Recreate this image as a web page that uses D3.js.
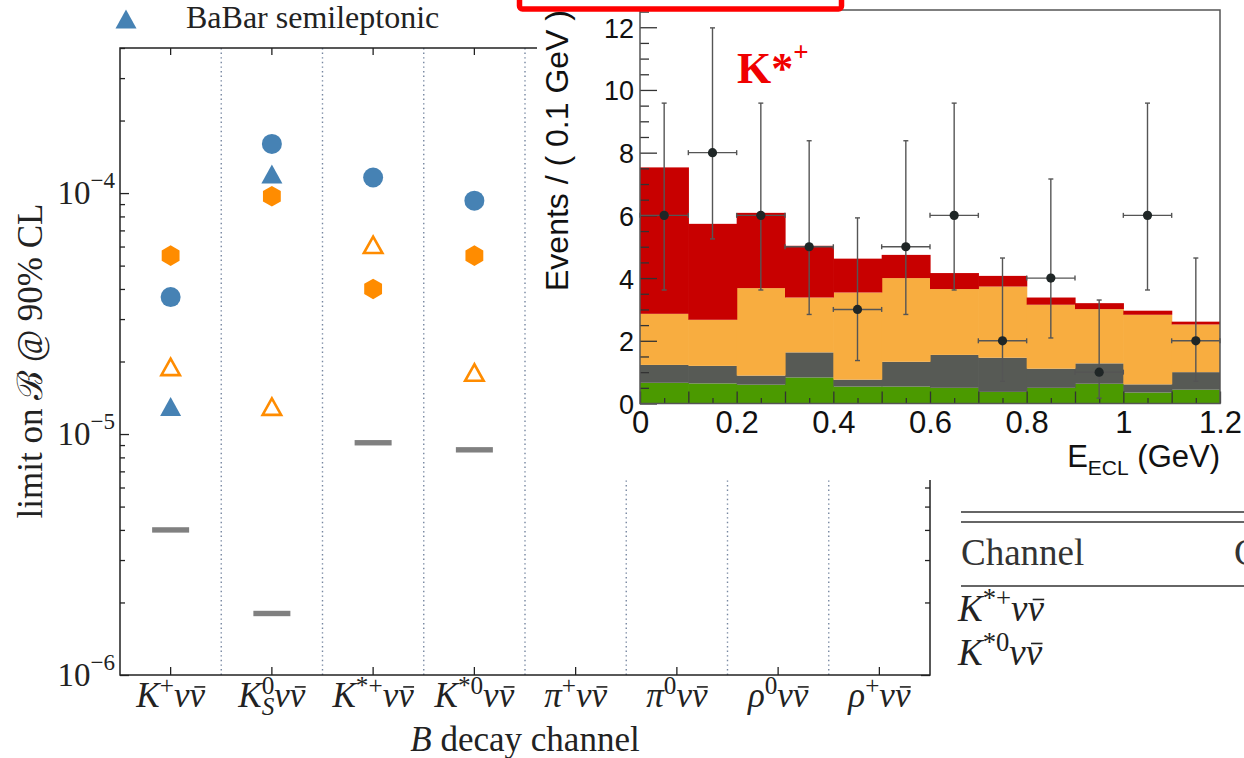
<!DOCTYPE html>
<html>
<head>
<meta charset="utf-8">
<script src="https://cdn.jsdelivr.net/npm/d3@7"></script>
<style>
body { margin: 0; background: #fff; }
svg { display: block; }
</style>
</head>
<body>
<div id="chart"></div>
<script>
var WIDTH = 1244;
var HEIGHT = 758;
var SERIF = "'Liberation Serif', 'DejaVu Serif', serif";
var SANS = "'Liberation Sans', Arial, sans-serif";
var INK = "#222";

// ---- main plot: limits on B(B -> h nu nubar) ----
var channels     = ["K+", "KS0", "K*+", "K*0", "pi+", "pi0", "rho0", "rho+"];
var channelBase  = ["K", "K", "K", "K", "\u03C0", "\u03C0", "\u03C1", "\u03C1"];
var channelSup   = ["+", "0", "*+", "*0", "+", "0", "0", "+"];
var channelSub   = ["", "S", "", "", "", "", "", ""];

var belleHadronic = [5.5e-5, 9.7e-5, 4.0e-5, 5.5e-5, null, null, null, null];
var babarHadronic = [3.7e-5, 1.6e-4, 1.16e-4, 9.3e-5, null, null, null, null];
var belleSemilep  = [1.9e-5, 1.3e-5, 6.1e-5, 1.8e-5, null, null, null, null];
var babarSemilep  = [1.3e-5, 1.2e-4, null, null, null, null, null, null];
var belle2Proj    = [4.0e-6, 1.8e-6, 9.2e-6, 8.6e-6, null, null, null, null];

var yMajor = [1e-6, 1e-5, 1e-4];
var yExps  = [-6, -5, -4];

// ---- inset: E_ECL distribution for K*+ ----
var binLow      = [0, 0.1, 0.2, 0.3, 0.4, 0.5, 0.6, 0.7, 0.8, 0.9, 1.0, 1.1];
var greenComp   = [0.66, 0.64, 0.60, 0.83, 0.54, 0.54, 0.50, 0.37, 0.50, 0.63, 0.35, 0.44];
var grayComp    = [0.57, 0.56, 0.29, 0.80, 0.22, 0.79, 1.05, 1.09, 0.61, 0.65, 0.26, 0.56];
var orangeComp  = [1.63, 1.47, 2.79, 1.75, 2.78, 2.67, 2.10, 2.27, 2.04, 1.73, 2.22, 1.52];
var redComp     = [4.67, 3.06, 2.40, 1.65, 1.08, 0.74, 0.51, 0.34, 0.23, 0.19, 0.13, 0.09];
var dataCounts  = [6, 8, 6, 5, 3, 5, 6, 2, 4, 1, 6, 2];
var errLow      = [3.62, 5.25, 3.62, 2.84, 1.37, 2.84, 3.62, 0.71, 2.09, 0.17, 3.62, 0.71];
var errHigh     = [9.58, 11.98, 9.58, 8.38, 5.92, 8.38, 9.58, 4.64, 7.16, 3.30, 9.58, 4.64];
var BIN_WIDTH = 0.1;
var inXTicks = [0, 0.2, 0.4, 0.6, 0.8, 1.0, 1.2];
var inXTickLabels = ["0", "0.2", "0.4", "0.6", "0.8", "1", "1.2"];
var inYTicks = [0, 2, 4, 6, 8, 10, 12];

var svg = d3.select("#chart").append("svg")
    .attr("width", WIDTH)
    .attr("height", HEIGHT);

svg.append("rect").attr("width", WIDTH).attr("height", HEIGHT).attr("fill", "#fff");

// ================= main plot =================
var x = d3.scaleBand().domain(channels).range([120, 930]);
var y = d3.scaleLog().domain([1e-6, 4e-4]).range([675, 48]);
var bw = x.bandwidth();
function cx(i) { return x(channels[i]) + bw / 2; }

var main = svg.append("g");

// dotted separators between channels
main.selectAll(".sep")
    .data(channels.slice(1))
    .enter().append("line")
    .attr("x1", function(d) { return x(d); })
    .attr("x2", function(d) { return x(d); })
    .attr("y1", y.range()[1])
    .attr("y2", y.range()[0])
    .attr("stroke", "#7686a0")
    .attr("stroke-width", 1.4)
    .attr("stroke-dasharray", "1.4,3.2");

// minor log ticks
var yMinor = [];
[1e-6, 1e-5, 1e-4].forEach(function(dec) {
    for (var k = 2; k <= 9; k++) {
        var v = dec * k;
        if (v <= 4e-4) yMinor.push(v);
    }
});

function styleAxis(g) {
    g.select(".domain").remove();
    g.selectAll(".tick line").attr("stroke", INK).attr("stroke-width", 1.3);
}

main.append("g").attr("transform", "translate(120,0)")
    .call(d3.axisLeft(y).tickValues(yMajor).tickSize(-9).tickFormat(""))
    .call(styleAxis);
main.append("g").attr("transform", "translate(120,0)")
    .call(d3.axisLeft(y).tickValues(yMinor).tickSize(-5).tickFormat(""))
    .call(styleAxis);
main.append("g").attr("transform", "translate(930,0)")
    .call(d3.axisRight(y).tickValues(yMajor).tickSize(-9).tickFormat(""))
    .call(styleAxis);
main.append("g").attr("transform", "translate(930,0)")
    .call(d3.axisRight(y).tickValues(yMinor).tickSize(-5).tickFormat(""))
    .call(styleAxis);
main.append("g").attr("transform", "translate(0,675)")
    .call(d3.axisBottom(x).tickSize(-8).tickFormat(""))
    .call(styleAxis);
main.append("g").attr("transform", "translate(0,48)")
    .call(d3.axisTop(x).tickSize(-7).tickFormat(""))
    .call(styleAxis);

main.append("rect")
    .attr("x", 120).attr("y", 48)
    .attr("width", 810).attr("height", 627)
    .attr("fill", "none")
    .attr("stroke", INK)
    .attr("stroke-width", 1.5);

// y tick labels 10^n
yMajor.forEach(function(v, i) {
    var t = main.append("text")
        .attr("x", 115).attr("y", y(v) + 11)
        .attr("text-anchor", "end")
        .style("font-family", SERIF)
        .style("font-size", "33px")
        .attr("fill", INK);
    t.append("tspan").text("10");
    t.append("tspan").attr("dy", -16).style("font-size", "23px")
        .text("\u2212" + Math.abs(yExps[i]));
});

// channel labels, the bar over the second nu is drawn by hand
function addNuBar(parent, t) {
    var n = t.node();
    var last = n.getNumberOfChars() - 1;
    var e = n.getExtentOfChar(last);
    var by = e.y + e.height * 0.28;
    parent.append("line")
        .attr("x1", e.x + e.width * 0.32)
        .attr("x2", e.x + e.width * 1.02)
        .attr("y1", by).attr("y2", by)
        .attr("stroke", t.attr("fill"))
        .attr("stroke-width", 1.6);
}

function channelLabel(parent, i, px, py, size, anchor) {
    var t = parent.append("text")
        .attr("x", px).attr("y", py)
        .attr("text-anchor", anchor)
        .style("font-family", SERIF)
        .style("font-size", size + "px")
        .attr("fill", INK);
    var s = size * 0.72;
    t.append("tspan").style("font-style", "italic").text(channelBase[i]);
    t.append("tspan").attr("dy", -size * 0.38).style("font-size", s + "px").text(channelSup[i]);
    var back = size * 0.38;
    if (channelSub[i]) {
        t.append("tspan").attr("dx", -s * 0.5).attr("dy", size * 0.62)
            .style("font-size", s + "px").style("font-style", "italic").text(channelSub[i]);
        back = -size * 0.24;
    }
    t.append("tspan").attr("dy", back).style("font-style", "italic")
        .style("font-size", size + "px").text("\u03BD\u03BD");
    addNuBar(parent, t);
    return t;
}

channels.forEach(function(c, i) {
    channelLabel(main, i, cx(i), 707, 35, "middle");
});

// axis titles
var xt = main.append("text")
    .attr("x", 525).attr("y", 751)
    .attr("text-anchor", "middle")
    .style("font-family", SERIF)
    .style("font-size", "35px")
    .attr("fill", INK);
xt.append("tspan").style("font-style", "italic").text("B");
xt.append("tspan").text(" decay channel");

main.append("text")
    .attr("transform", "translate(42,361) rotate(-90)")
    .attr("text-anchor", "middle")
    .style("font-family", SERIF)
    .style("font-size", "35px")
    .attr("fill", INK)
    .text("limit on \u212C @ 90% CL");

// markers
var BLUE = "#4682b4";
var ORANGE = "#ff8c00";

function hexPath(r) {
    var p = d3.path();
    for (var k = 0; k < 6; k++) {
        var a = Math.PI / 2 + k * Math.PI / 3;
        var px = r * Math.cos(a), py = -r * Math.sin(a);
        if (k === 0) p.moveTo(px, py); else p.lineTo(px, py);
    }
    p.closePath();
    return p.toString();
}
function triPath(w, h) {
    return "M0," + (-h / 2) + "L" + (-w / 2) + "," + (h / 2) + "L" + (w / 2) + "," + (h / 2) + "Z";
}

function idx(arr) {
    return arr.map(function(v, i) { return { v: v, i: i }; })
              .filter(function(d) { return d.v !== null; });
}

main.selectAll(".proj")
    .data(idx(belle2Proj))
    .enter().append("rect")
    .attr("x", function(d) { return cx(d.i) - 18.5; })
    .attr("y", function(d) { return y(d.v) - 2.7; })
    .attr("width", 37).attr("height", 5.4)
    .attr("fill", "#808080");

main.selectAll(".babarHad")
    .data(idx(babarHadronic))
    .enter().append("circle")
    .attr("cx", function(d) { return cx(d.i); })
    .attr("cy", function(d) { return y(d.v); })
    .attr("r", 10)
    .attr("fill", BLUE);

main.selectAll(".babarSL")
    .data(idx(babarSemilep))
    .enter().append("path")
    .attr("transform", function(d) { return "translate(" + cx(d.i) + "," + y(d.v) + ")"; })
    .attr("d", triPath(21, 19))
    .attr("fill", BLUE);

main.selectAll(".belleHad")
    .data(idx(belleHadronic))
    .enter().append("path")
    .attr("transform", function(d) { return "translate(" + cx(d.i) + "," + y(d.v) + ")"; })
    .attr("d", hexPath(10.3))
    .attr("fill", ORANGE);

main.selectAll(".belleSL")
    .data(idx(belleSemilep))
    .enter().append("path")
    .attr("transform", function(d) { return "translate(" + cx(d.i) + "," + y(d.v) + ")"; })
    .attr("d", triPath(18.5, 16.5))
    .attr("fill", "none")
    .attr("stroke", ORANGE)
    .attr("stroke-width", 2.6);

// legend (only the last entry is in view)
main.append("path")
    .attr("transform", "translate(126,19)")
    .attr("d", triPath(21, 19))
    .attr("fill", BLUE);
main.append("text")
    .attr("x", 186).attr("y", 28)
    .style("font-family", SERIF)
    .style("font-size", "32px")
    .attr("fill", INK)
    .text("BaBar semileptonic");

// ================= inset histogram =================
var ix = d3.scaleLinear().domain([0, 1.2]).range([640, 1220]);
var iy = d3.scaleLinear().domain([0, 12.55]).range([403.5, 10]);

var inset = svg.append("g");
inset.append("rect")
    .attr("x", 537).attr("y", 0)
    .attr("width", WIDTH - 537).attr("height", 480)
    .attr("fill", "#fff");

var rows = binLow.map(function(b, i) {
    return { lo: b, green: greenComp[i], gray: grayComp[i], orange: orangeComp[i], red: redComp[i] };
});
var stackKeys = ["green", "gray", "orange", "red"];
var stackColors = { green: "#4b9a00", gray: "#575a55", orange: "#f8ad40", red: "#c80000" };
var layers = d3.stack().keys(stackKeys)(rows);

inset.selectAll(".layer")
    .data(layers)
    .enter().append("g")
    .attr("fill", function(d) { return stackColors[d.key]; })
    .selectAll("rect")
    .data(function(d) { return d; })
    .enter().append("rect")
    .attr("x", function(d) { return ix(d.data.lo); })
    .attr("width", function(d) {
        var w = ix(d.data.lo + BIN_WIDTH) - ix(d.data.lo);
        return d.data.lo + BIN_WIDTH < 1.2 - 1e-9 ? w + 0.6 : w;
    })
    .attr("y", function(d) { return iy(d[1]); })
    .attr("height", function(d) { return iy(d[0]) - iy(d[1]); });

// inset axes
function styleInset(g) {
    g.select(".domain").remove();
    g.selectAll(".tick line").attr("stroke", "#333").attr("stroke-width", 1.3);
    g.selectAll(".tick text").attr("fill", "#111").style("font-family", SANS);
}

var inYMinor = d3.range(0.5, 12.55, 0.5).filter(function(v) { return v % 2 !== 0; });
var inXMid = [0.1, 0.3, 0.5, 0.7, 0.9, 1.1];
var inXMinor = d3.range(0.05, 1.2, 0.1);

inset.append("g").attr("transform", "translate(640,0)")
    .call(d3.axisLeft(iy).tickValues(inYMinor).tickSize(-9).tickFormat(""))
    .call(styleInset);
inset.append("g").attr("transform", "translate(640,0)")
    .call(d3.axisLeft(iy).tickValues(inYTicks).tickSize(-17).tickPadding(6).tickFormat(d3.format("d")))
    .call(styleInset)
    .selectAll(".tick text")
    .attr("dy", "0.37em")
    .style("font-size", "27px");

inset.append("g").attr("transform", "translate(0,403.5)")
    .call(d3.axisBottom(ix).tickValues(inXMinor).tickSize(-5.5).tickFormat(""))
    .call(styleInset);
inset.append("g").attr("transform", "translate(0,403.5)")
    .call(d3.axisBottom(ix).tickValues(inXMid).tickSize(-12).tickFormat(""))
    .call(styleInset);
inset.append("g").attr("transform", "translate(0,403.5)")
    .call(d3.axisBottom(ix).tickValues(inXTicks).tickSize(-12).tickPadding(7)
        .tickFormat(function(d, i) { return inXTickLabels[i]; }))
    .call(styleInset)
    .selectAll(".tick text")
    .style("font-size", "31px");

inset.append("rect")
    .attr("x", 640).attr("y", 10)
    .attr("width", 580).attr("height", 393.5)
    .attr("fill", "none")
    .attr("stroke", "#555")
    .attr("stroke-width", 1.5);

// data points with error bars
var pts = inset.selectAll(".pt")
    .data(dataCounts.map(function(n, i) {
        return { lo: binLow[i], n: n, el: errLow[i], eh: errHigh[i] };
    }))
    .enter().append("g")
    .attr("stroke", "#555")
    .attr("stroke-width", 1.4);

pts.append("line")
    .attr("x1", function(d) { return ix(d.lo + BIN_WIDTH / 2); })
    .attr("x2", function(d) { return ix(d.lo + BIN_WIDTH / 2); })
    .attr("y1", function(d) { return iy(d.el); })
    .attr("y2", function(d) { return iy(d.eh); });
pts.append("line")
    .attr("x1", function(d) { return ix(d.lo); })
    .attr("x2", function(d) { return ix(d.lo + BIN_WIDTH); })
    .attr("y1", function(d) { return iy(d.n); })
    .attr("y2", function(d) { return iy(d.n); });
["el", "eh"].forEach(function(k) {
    pts.append("line")
        .attr("x1", function(d) { return ix(d.lo + BIN_WIDTH / 2) - 2.5; })
        .attr("x2", function(d) { return ix(d.lo + BIN_WIDTH / 2) + 2.5; })
        .attr("y1", function(d) { return iy(d[k]); })
        .attr("y2", function(d) { return iy(d[k]); });
});
[0, BIN_WIDTH].forEach(function(off) {
    pts.append("line")
        .attr("x1", function(d) { return ix(d.lo + off); })
        .attr("x2", function(d) { return ix(d.lo + off); })
        .attr("y1", function(d) { return iy(d.n) - 2.5; })
        .attr("y2", function(d) { return iy(d.n) + 2.5; });
});
pts.append("circle")
    .attr("cx", function(d) { return ix(d.lo + BIN_WIDTH / 2); })
    .attr("cy", function(d) { return iy(d.n); })
    .attr("r", 4.6)
    .attr("stroke", "none")
    .attr("fill", "#1f2626");

// inset titles
inset.append("text")
    .attr("transform", "translate(568,10) rotate(-90)")
    .attr("text-anchor", "end")
    .style("font-family", SANS)
    .style("font-size", "32px")
    .attr("fill", "#111")
    .text("Events / ( 0.1 GeV )");

var et = inset.append("text")
    .attr("x", 1220).attr("y", 467)
    .attr("text-anchor", "end")
    .style("font-family", SANS)
    .style("font-size", "31px")
    .attr("fill", "#111");
et.append("tspan").text("E");
et.append("tspan").attr("dy", 8).style("font-size", "21px").text("ECL");
et.append("tspan").attr("dy", -8).text(" (GeV)");

var kt = inset.append("text")
    .attr("x", 737).attr("y", 83)
    .style("font-family", SERIF)
    .style("font-weight", "bold")
    .style("font-size", "44px")
    .attr("fill", "#f00000");
kt.append("tspan").text("K*");
kt.append("tspan").attr("dy", -22).style("font-size", "27px").text("+");

// ================= table fragment =================
var table = svg.append("g");
[512, 522, 586].forEach(function(ly) {
    table.append("line")
        .attr("x1", 961).attr("x2", WIDTH)
        .attr("y1", ly).attr("y2", ly)
        .attr("stroke", "#333")
        .attr("stroke-width", 1.5);
});
table.append("text")
    .attr("x", 961).attr("y", 565)
    .style("font-family", SERIF)
    .style("font-size", "37px")
    .attr("fill", "#333")
    .text("Channel");
table.append("text")
    .attr("x", 1234).attr("y", 565)
    .style("font-family", SERIF)
    .style("font-size", "37px")
    .attr("fill", "#333")
    .text("C");
channelLabel(table, 2, 958, 621, 37, "start");
channelLabel(table, 3, 958, 665, 37, "start");

// ================= red highlight box =================
svg.append("rect")
    .attr("x", 519.5).attr("y", -30)
    .attr("width", 322).attr("height", 39)
    .attr("rx", 3)
    .attr("fill", "#fff")
    .attr("stroke", "#ff0000")
    .attr("stroke-width", 5.5);
</script>
</body>
</html>
